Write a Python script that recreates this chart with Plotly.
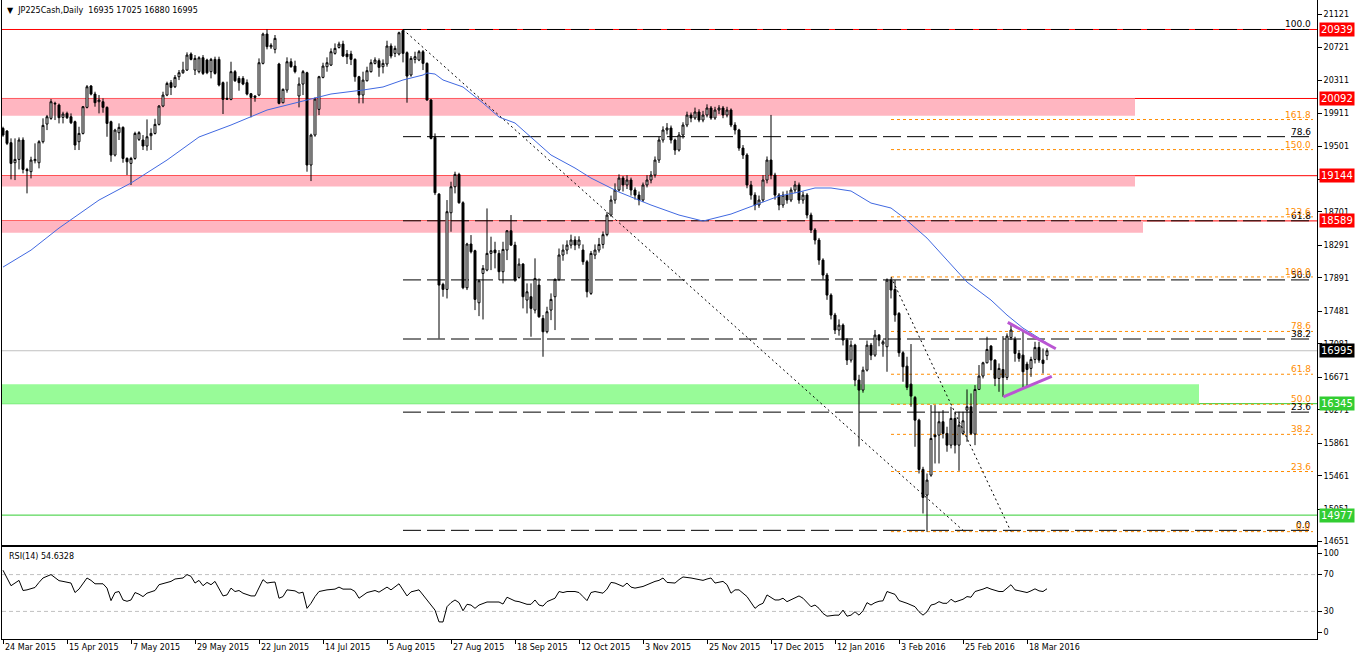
import plotly.graph_objects as go

# ---------------- data ----------------
date_labels = ["24 Mar 2015", "15 Apr 2015", "7 May 2015", "29 May 2015", "22 Jun 2015",
               "14 Jul 2015", "5 Aug 2015", "27 Aug 2015", "18 Sep 2015", "12 Oct 2015",
               "3 Nov 2015", "25 Nov 2015", "17 Dec 2015", "12 Jan 2016", "3 Feb 2016",
               "25 Feb 2016", "18 Mar 2016"]
date_label_bars = [0, 16, 32, 48, 64, 80, 96, 112, 128, 144, 160, 176, 192, 208, 224, 240, 256]

opens = [
    19725, 19692, 19549, 19303, 19344, 19582, 19221, 19193, 19328, 19303,
    19561, 19778, 19848, 20024, 20011, 19860, 19909, 19868, 19807, 19561,
    19663, 19983, 20245, 20146, 20052, 20052, 19983, 19807, 19397, 19672,
    19737, 19356, 19295, 19356, 19590, 19582, 19508, 19635, 19663, 19774,
    19999, 20134, 20286, 20236, 20359, 20408, 20441, 20638, 20441, 20421,
    20592, 20564, 20421, 20572, 20572, 20286, 20081, 20081, 20421, 20339,
    20339, 20286, 20150, 20105, 20134, 20523, 20883, 20725, 20695, 20515,
    20040, 20195, 20543, 20490, 20122, 20269, 20408, 19275, 19643, 19958,
    20351, 20482, 20502, 20646, 20719, 20760, 20638, 20638, 20572, 20359,
    20134, 20310, 20421, 20523, 20556, 20482, 20515, 20736, 20646, 20638,
    20924, 20654, 20380, 20572, 20564, 20666, 20523, 20073, 19614, 18918,
    17810, 17748, 18689, 19008, 19160, 18812, 17768, 18305, 18223, 17584,
    17944, 17985, 18190, 18231, 18190, 17965, 18231, 18468, 18292, 17895,
    18059, 17617, 17658, 17494, 17801, 17392, 17228, 17494, 17658, 17871,
    18170, 18231, 18292, 18354, 18292, 18231, 18088, 17699, 18170, 18231,
    18300, 18420, 18660, 18845, 18968, 19115, 19030, 19091, 18968, 18906,
    18845, 19030, 19091, 19152, 19336, 19582, 19705, 19729, 19582, 19459,
    19643, 19766, 19889, 19852, 19926, 19827, 19889, 19975, 19852, 19950,
    19975, 19889, 19950, 19766, 19705, 19483, 19398, 19030, 18906, 18784,
    18845, 19091, 19336, 19152, 18906, 18784, 18906, 18845, 18968, 19030,
    18845, 18906, 18661, 18477, 18354, 18108, 17924, 17678, 17433, 17249,
    17310, 17126, 16880, 17064, 16635, 16512, 16757, 17064, 16941, 17187,
    17077, 17044, 17862, 17748, 17453, 16970, 16806, 16585, 16422, 16143,
    15538, 15222, 15468, 15959, 15959, 16123, 15980, 15836, 16164, 15836,
    15980, 16266, 16307, 15972, 16520, 16684, 16847, 17052, 16880, 16655,
    16765, 16667, 17158, 17134, 16962, 16941, 16831, 16778, 16888, 17036,
    16880, 16935]
highs = [
    19745, 19704, 19602, 19602, 19614, 19614, 19240, 19377, 19541, 19580,
    19848, 19890, 20085, 20052, 20030, 19929, 19930, 19909, 19820, 19745,
    20000, 20257, 20257, 20175, 20134, 20093, 19995, 19820, 19720, 19786,
    19750, 19370, 19375, 19684, 19690, 19643, 19835, 19725, 19843, 20011,
    20175, 20298, 20318, 20380, 20441, 20543, 20658, 20658, 20625, 20610,
    20625, 20580, 20590, 20605, 20605, 20300, 20298, 20543, 20441, 20367,
    20367, 20326, 20160, 20130, 20584, 20900, 20940, 20770, 20871, 20530,
    20215, 20597, 20584, 20556, 20351, 20441, 20420, 19660, 20105, 20370,
    20531, 20597, 20707, 20768, 20789, 20801, 20687, 20678, 20585, 20370,
    20421, 20482, 20572, 20597, 20584, 20572, 20801, 20768, 20740, 20912,
    20939, 20670, 20613, 20666, 20687, 20687, 20535, 20085, 19663, 18930,
    17830, 18845, 19070, 19193, 19180, 18830, 18320, 18415, 18235, 17870,
    18047, 18742, 18395, 18333, 18231, 18333, 18476, 18661, 18333, 18129,
    18070, 17822, 17822, 18129, 17883, 17433, 17535, 17699, 17883, 18250,
    18300, 18350, 18420, 18400, 18400, 18300, 18110, 18220, 18300, 18380,
    18460, 18700, 18900, 19050, 19160, 19140, 19150, 19120, 19000, 18950,
    19060, 19150, 19200, 19380, 19620, 19750, 19790, 19760, 19600, 19680,
    19800, 19930, 19920, 19980, 19960, 19940, 20020, 20000, 19990, 20010,
    20000, 19990, 19970, 19800, 19720, 19520, 19420, 19080, 18940, 18900,
    19150, 19380, 19890, 19180, 18930, 18950, 18960, 19000, 19080, 19060,
    18950, 18930, 18690, 18500, 18380, 18130, 17950, 17700, 17460, 17380,
    17330, 17150, 17120, 17080, 16700, 16800, 17120, 17090, 17250, 17200,
    17130, 17883, 17883, 17862, 17470, 16990, 16921, 17077, 16440, 16160,
    15570, 15488, 16328, 16328, 16246, 16266, 16062, 16307, 16246, 16246,
    16246, 16520, 16471, 16573, 16819, 16860, 17167, 17064, 16890, 16839,
    17175, 17208, 17330, 17167, 17003, 17240, 16860, 16921, 17105, 17105,
    17023, 17025]
lows = [
    19622, 19520, 19099, 19090, 19221, 19172, 18927, 19111, 19295, 19234,
    19540, 19704, 19830, 19827, 19786, 19786, 19840, 19778, 19459, 19459,
    19650, 19970, 20130, 19991, 19909, 19917, 19622, 19315, 19380, 19582,
    19303, 19152, 19029, 19340, 19570, 19459, 19451, 19459, 19650, 19760,
    19985, 20120, 20134, 20220, 20318, 20395, 20430, 20560, 20380, 20400,
    20380, 20390, 20339, 20385, 20240, 19901, 20073, 20070, 20295, 20187,
    20255, 20130, 19860, 20052, 20120, 20510, 20695, 20700, 20646, 20020,
    20032, 20163, 20470, 20400, 19983, 20134, 19193, 19078, 19622, 19888,
    20339, 20421, 20490, 20630, 20705, 20600, 20515, 20502, 20298, 20032,
    20032, 20300, 20410, 20510, 20359, 20400, 20482, 20584, 20600, 20620,
    20535, 20040, 20359, 20523, 20550, 20441, 20065, 19590, 18906, 17146,
    17658, 17637, 18456, 18927, 18800, 17750, 17740, 18190, 17494, 17420,
    17379, 17970, 17985, 18006, 17862, 17822, 18108, 18280, 17842, 17880,
    17515, 17453, 17167, 17453, 17400, 16921, 17208, 17371, 17249, 17850,
    18100, 18180, 18250, 18230, 18250, 18050, 17650, 17680, 18120, 18200,
    18250, 18400, 18640, 18800, 18950, 18950, 18980, 18900, 18850, 18780,
    18820, 19000, 19050, 19120, 19300, 19550, 19650, 19540, 19400, 19440,
    19600, 19740, 19800, 19830, 19800, 19800, 19860, 19830, 19830, 19900,
    19850, 19860, 19740, 19650, 19450, 19350, 18990, 18850, 18720, 18750,
    18820, 19050, 19100, 18850, 18720, 18750, 18800, 18820, 18930, 18800,
    18800, 18620, 18440, 18300, 18050, 17870, 17620, 17380, 17200, 17180,
    17060, 16820, 16850, 16560, 15820, 16480, 16740, 16880, 16920, 17050,
    16921, 16737, 17637, 17351, 16921, 16614, 16512, 16307, 15816, 15488,
    14997, 14772, 15448, 15611, 15611, 15918, 15755, 15796, 15734, 15521,
    15959, 15877, 15959, 15836, 16512, 16655, 16839, 16757, 16561, 16491,
    16430, 16635, 17126, 16860, 16860, 16544, 16561, 16675, 16839, 16847,
    16716, 16880]
closes = [
    19643, 19541, 19295, 19344, 19582, 19221, 19205, 19336, 19344, 19561,
    19762, 19868, 20052, 20032, 19856, 19901, 19856, 19794, 19520, 19663,
    19991, 20236, 20146, 20040, 20073, 19983, 19786, 19397, 19704, 19737,
    19356, 19315, 19356, 19663, 19672, 19508, 19622, 19663, 19774, 19999,
    20134, 20277, 20228, 20351, 20408, 20441, 20625, 20572, 20584, 20592,
    20400, 20408, 20572, 20400, 20257, 20081, 20093, 20421, 20310, 20286,
    20269, 20146, 20105, 20122, 20531, 20883, 20728, 20745, 20830, 20032,
    20204, 20543, 20482, 20421, 20269, 20421, 19275, 19643, 20085, 20359,
    20490, 20531, 20666, 20707, 20760, 20613, 20605, 20572, 20359, 20134,
    20318, 20433, 20531, 20564, 20474, 20523, 20736, 20613, 20707, 20899,
    20646, 20367, 20584, 20605, 20666, 20523, 20073, 19602, 18935, 17801,
    17748, 18702, 19008, 19160, 18812, 17768, 18305, 18210, 17625, 17854,
    18006, 18190, 18223, 18198, 17965, 18239, 18468, 18292, 17862, 18059,
    17658, 17719, 17515, 17883, 17412, 17228, 17474, 17625, 17871, 18170,
    18231, 18292, 18354, 18292, 18354, 18088, 17719, 18190, 18231, 18300,
    18420, 18660, 18845, 18968, 19115, 19030, 19091, 18968, 18906, 18845,
    19030, 19091, 19152, 19336, 19582, 19705, 19729, 19582, 19459, 19643,
    19766, 19889, 19852, 19926, 19827, 19889, 19975, 19852, 19950, 19975,
    19889, 19950, 19766, 19705, 19483, 19398, 19030, 18906, 18784, 18845,
    19091, 19336, 19152, 18906, 18784, 18906, 18845, 18968, 19030, 18845,
    18906, 18661, 18477, 18354, 18108, 17924, 17678, 17433, 17249, 17310,
    17126, 16880, 17064, 16635, 16512, 16757, 17064, 16941, 17187, 17126,
    17105, 17862, 17740, 17433, 16970, 16798, 16545, 16438, 16143, 15538,
    15194, 15407, 15918, 15939, 16123, 15980, 15836, 16164, 15836, 16082,
    16135, 16307, 15980, 16520, 16684, 16847, 17011, 16880, 16655, 16778,
    16667, 17175, 17249, 16962, 16901, 16737, 16765, 16888, 17036, 16880,
    16839, 16995]

# moving average (blue) read at selected bars
ma_bars = [0, 7, 14, 24, 32, 41, 49, 57, 66, 74, 82, 90, 95, 100, 105, 106, 108, 110,
           115, 120, 124, 128, 132, 137, 143, 147, 154, 162, 169, 175, 182, 188, 194,
           199, 203, 207, 212, 217, 222, 225, 231, 236, 241, 247, 251, 255, 261]
ma_vals = [18022, 18230, 18501, 18845, 19054, 19336, 19619, 19766, 19950, 20048, 20147,
           20196, 20233, 20319, 20380, 20405, 20392, 20319, 20233, 20036, 19864, 19791,
           19619, 19398, 19238, 19115, 18943, 18784, 18661, 18587, 18673, 18784, 18894,
           18943, 18993, 18993, 18956, 18808, 18747, 18636, 18378, 18108, 17838, 17617,
           17433, 17273, 17089]

# RSI(14) read at selected bars
rsi_bars = [0, 2, 4, 5, 6, 8, 9, 10, 12, 13, 14, 15, 17, 18, 19, 21, 22, 23, 25, 26,
            27, 28, 29, 30, 31, 32, 33, 34, 35, 36, 38, 39, 41, 42, 43, 45, 46, 47, 48, 49,
            50, 51, 52, 53, 55, 56, 57, 58, 59, 60, 62, 63, 65, 66, 67, 68, 69, 70, 71, 73,
            74, 75, 76, 77, 78, 79, 81, 83, 84, 85, 87, 88, 89, 90, 91, 93, 94, 96, 97, 99,
            100, 101, 102, 104, 106, 108, 109, 110, 111, 112, 113, 114, 115, 116, 117, 118, 119, 121, 123, 124,
            125, 126, 128, 129, 131, 132, 133, 134, 135, 136, 138, 139, 140, 141, 143, 144, 145, 146, 147, 148,
            150, 151, 152, 153, 155, 156, 157, 158, 160, 161, 163, 164, 165, 166, 168, 169, 170, 172, 173, 175,
            176, 177, 178, 180, 181, 182, 183, 184, 186, 187, 188, 189, 190, 191, 193, 194, 195, 196, 198, 199,
            200, 201, 202, 203, 204, 205, 206, 208, 209, 210, 211, 212, 213, 214, 215, 216, 217, 218, 219, 220,
            221, 223, 224, 226, 228, 229, 230, 231, 232, 233, 234, 235, 236, 237, 238, 240, 241, 242, 243, 245,
            246, 247, 249, 250, 252, 253, 254, 256, 257, 258, 259, 260, 261]
rsi_vals = [74.7, 57.9, 63.7, 52.7, 53.4, 56.0, 61.5, 66.3, 70.0, 66.3, 63.4, 62.6, 60.8, 50.5, 54.2, 66.3, 63.7, 60.0, 60.0, 55.3,
            41.7, 50.5, 51.6, 42.4, 41.0, 42.4, 50.5, 48.7, 46.1, 49.8, 52.7, 59.0, 61.9, 62.6, 65.2, 66.3, 70.0, 68.1, 60.8, 63.7,
            57.9, 61.5, 59.0, 62.6, 46.8, 47.9, 55.3, 51.6, 52.7, 49.8, 46.8, 46.8, 64.5, 60.8, 61.5, 61.9, 44.3, 46.1, 53.4, 52.3,
            49.8, 50.9, 33.3, 38.8, 46.1, 51.6, 53.4, 54.2, 56.4, 54.2, 54.2, 51.6, 44.3, 47.9, 50.5, 52.7, 50.9, 56.4, 53.4, 60.0,
            52.7, 46.8, 51.2, 53.4, 42.4, 31.4, 18.6, 18.5, 35.1, 39.5, 42.4, 39.5, 30.7, 37.7, 36.9, 33.3, 36.9, 40.2, 40.2, 40.2,
            38.0, 45.4, 41.3, 40.6, 37.7, 37.7, 42.4, 36.9, 35.8, 40.6, 44.3, 51.6, 50.5, 51.6, 51.6, 50.5, 46.1, 41.7, 50.5, 51.6,
            49.8, 54.2, 61.5, 60.8, 57.1, 60.8, 56.4, 55.3, 57.1, 59.0, 62.6, 63.7, 66.3, 61.5, 60.8, 64.5, 67.4, 66.3, 65.2, 63.7,
            65.2, 66.3, 60.8, 62.6, 59.0, 49.8, 53.4, 53.4, 46.1, 39.5, 33.3, 36.9, 38.8, 47.9, 42.4, 42.4, 44.3, 40.6, 44.3, 46.8,
            44.3, 39.5, 35.1, 36.9, 33.3, 27.8, 24.8, 25.9, 25.9, 31.4, 24.8, 25.9, 29.6, 25.9, 30.7, 39.5, 36.9, 39.5, 41.0, 41.5,
            51.6, 48.5, 41.8, 38.8, 35.1, 29.6, 25.9, 29.6, 36.9, 38.0, 40.6, 38.8, 38.8, 43.2, 40.2, 43.2, 46.1, 45.4, 51.6, 54.2,
            56.0, 54.2, 51.6, 51.6, 59.0, 53.4, 52.7, 50.5, 52.3, 54.5, 52.3, 51.6, 54.6]

# Fibonacci retracements
fib1_levels = [0.0, 23.6, 38.2, 50.0, 61.8, 78.6, 100.0]
fib1_low, fib1_high = 14790, 20939
fib1_start_bar, fib1_end_bar = 100, 240
fib2_levels = [0.0, 23.6, 38.2, 50.0, 61.8, 78.6, 100.0, 123.6, 150.0, 161.8]
fib2_low, fib2_high = 14774, 17901
fib2_start_bar, fib2_end_bar = 222, 252

# support / resistance zones (top, bottom, last bar)
pink_zones = [(20092, 19880, 283), (19144, 19010, 283), (18589, 18444, 285)]
green_zone = (16585, 16345, 299)
red_levels = [20939, 20092, 19144, 18589]
green_levels = [16345, 14977]
last_price = 16995

# triangle (purple) trendlines: (bar0, price0, bar1, price1)
tri_upper = (251.2, 17343, 263.2, 17019)
tri_lower = (250.1, 16430, 262.2, 16680)

price_ticks = [21121, 20721, 20311, 19911, 19501, 19101, 18701, 18291, 17891, 17481,
               17081, 16671, 16271, 15861, 15461, 15051, 14651]
price_tags = [(20939, "20939", "#FF0000"), (20092, "20092", "#FF0000"),
              (19144, "19144", "#FF0000"), (18589, "18589", "#FF0000"),
              (16995, "16995", "#000000"), (16345, "16345", "#32CD32"),
              (14977, "14977", "#32CD32")]

# ---------------- figure ----------------
FONT = "DejaVu Sans"
x_range = [-0.25, 328.5]
right_bar = 327.5
bars = list(range(len(closes)))

fig = go.Figure()
fig.add_trace(go.Candlestick(
    x=bars, open=opens, high=highs, low=lows, close=closes,
    increasing=dict(line=dict(color="black", width=1), fillcolor="white"),
    decreasing=dict(line=dict(color="black", width=1), fillcolor="black"),
    whiskerwidth=0, xaxis="x", yaxis="y", showlegend=False, hoverinfo="skip"))

fig.add_trace(go.Scatter(x=ma_bars, y=ma_vals, mode="lines",
                         line=dict(color="#4169E1", width=1), xaxis="x", yaxis="y",
                         showlegend=False, hoverinfo="skip"))

fig.add_trace(go.Scatter(x=rsi_bars, y=rsi_vals, mode="lines",
                         line=dict(color="black", width=1), xaxis="x2", yaxis="y2",
                         showlegend=False, hoverinfo="skip"))

shapes = []
for top, bot, endb in pink_zones:
    shapes.append(dict(type="rect", xref="x", yref="y", x0=-5, x1=endb, y0=bot, y1=top,
                       fillcolor="#FFB6C1", line=dict(width=0), layer="below"))
shapes.append(dict(type="rect", xref="x", yref="y", x0=-5, x1=green_zone[2], y0=green_zone[1],
                   y1=green_zone[0], fillcolor="#98FB98", line=dict(width=0), layer="below"))
for lv in red_levels:
    shapes.append(dict(type="line", xref="x domain", yref="y", x0=0, x1=1, y0=lv, y1=lv,
                       line=dict(color="#FF0000", width=1), layer="below"))
for lv in green_levels:
    shapes.append(dict(type="line", xref="x domain", yref="y", x0=0, x1=1, y0=lv, y1=lv,
                       line=dict(color="#32CD32", width=1), layer="below"))
shapes.append(dict(type="line", xref="x domain", yref="y", x0=0, x1=1, y0=last_price, y1=last_price,
                   line=dict(color="#C0C0C0", width=1), layer="below"))

annotations = []
for lv in fib1_levels:
    p = fib1_low + lv / 100.0 * (fib1_high - fib1_low)
    shapes.append(dict(type="line", xref="x", yref="y", x0=fib1_start_bar, x1=right_bar, y0=p, y1=p,
                       line=dict(color="black", width=1, dash="18px,6px"), layer="below"))
    annotations.append(dict(x=right_bar, y=p, xref="x", yref="y", text="%.1f" % lv, showarrow=False,
                            xanchor="right", yanchor="bottom", yshift=-2,
                            font=dict(family=FONT, size=9, color="black")))
shapes.append(dict(type="line", xref="x", yref="y", x0=fib1_start_bar, x1=fib1_end_bar,
                   y0=fib1_high, y1=fib1_low, line=dict(color="black", width=1, dash="2px,3px")))
for lv in fib2_levels:
    p = fib2_low + lv / 100.0 * (fib2_high - fib2_low)
    shapes.append(dict(type="line", xref="x", yref="y", x0=fib2_start_bar, x1=right_bar, y0=p, y1=p,
                       line=dict(color="#FF8C00", width=1, dash="3px,3px"), layer="below"))
    annotations.append(dict(x=right_bar, y=p, xref="x", yref="y", text="%.1f" % lv, showarrow=False,
                            xanchor="right", yanchor="bottom", yshift=-2,
                            font=dict(family=FONT, size=9, color="#FF8C00")))
shapes.append(dict(type="line", xref="x", yref="y", x0=fib2_start_bar, x1=fib2_end_bar,
                   y0=fib2_high, y1=fib2_low, line=dict(color="black", width=1, dash="2px,3px")))
for t in (tri_upper, tri_lower):
    shapes.append(dict(type="line", xref="x", yref="y", x0=t[0], x1=t[2], y0=t[1], y1=t[3],
                       line=dict(color="#BA55D3", width=3)))
for lv in (70, 30):
    shapes.append(dict(type="line", xref="x2 domain", yref="y2", x0=0, x1=1, y0=lv, y1=lv,
                       line=dict(color="#C0C0C0", width=1, dash="4px,3px"), layer="below"))

for val, txt, col in price_tags:
    annotations.append(dict(x=1, y=val, xref="paper", yref="y", text=txt, showarrow=False,
                            xanchor="left", yanchor="middle", xshift=2, bgcolor=col,
                            borderpad=1, font=dict(family=FONT, size=10, color="white")))

for b, txt in zip(date_label_bars, date_labels):
    annotations.append(dict(x=b, y=0, xref="x2", yref="paper", text=txt, showarrow=False,
                            xanchor="left", yanchor="top", xshift=0, yshift=-2,
                            font=dict(family=FONT, size=8, color="black")))

annotations.append(dict(x=0, y=1, xref="paper", yref="paper",
                        text="\u25BC  JP225Cash,Daily  16935 17025 16880 16995", showarrow=False,
                        xanchor="left", yanchor="top", xshift=3, yshift=-4,
                        font=dict(family=FONT, size=8, color="black")))
annotations.append(dict(x=0, y=0.144, xref="paper", yref="paper",
                        text="RSI(14) 54.6328", showarrow=False,
                        xanchor="left", yanchor="top", xshift=5, yshift=-3,
                        font=dict(family=FONT, size=8, color="black")))

axis_common = dict(showgrid=False, zeroline=False, showline=True, linecolor="black",
                   linewidth=1, mirror=True)

fig.update_layout(
    width=1358, height=660,
    margin=dict(l=2, r=41, t=0, b=21),
    paper_bgcolor="white", plot_bgcolor="white",
    shapes=shapes, annotations=annotations,
    xaxis=dict(domain=[0, 1], anchor="y", range=x_range, showticklabels=False,
               rangeslider=dict(visible=False), ticks="", **axis_common),
    yaxis=dict(domain=[0.1471, 1], anchor="x", side="right", range=[14610, 21301],
               tickvals=price_ticks, ticktext=[str(v) for v in price_ticks], ticks="outside",
               ticklen=4, tickcolor="black", tickfont=dict(family=FONT, size=8, color="black"),
               **axis_common),
    xaxis2=dict(domain=[0, 1], anchor="y2", range=x_range, matches="x",
                tickvals=date_label_bars, ticks="outside", ticklen=4, tickcolor="black",
                showticklabels=False, **axis_common),
    yaxis2=dict(domain=[0, 0.144], anchor="x2", side="right", range=[0, 100],
                tickvals=[7, 30, 70, 93], ticktext=["0", "30", "70", "100"], ticks="outside",
                ticklen=4, tickcolor="black", tickfont=dict(family=FONT, size=8, color="black"),
                **axis_common),
)

fig.write_html("out.html", config={"displayModeBar": False},
               post_script="document.body.style.margin='0px';document.body.style.overflow='hidden';")
